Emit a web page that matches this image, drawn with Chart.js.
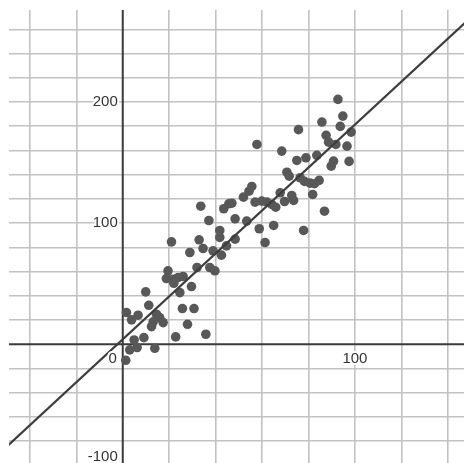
<!DOCTYPE html>
<html>
<head>
<meta charset="utf-8">
<script src="https://cdn.jsdelivr.net/npm/chart.js@4/dist/chart.umd.min.js"></script>
<style>
  html, body { margin: 0; padding: 0; background: #fff; }
  #wrap { width: 464px; height: 463px; }
</style>
</head>
<body>
<div id="wrap"><canvas id="c"></canvas></div>
<script>
// scatter values
var xs = [21.0, 32.9, 34.6, 28.9, 38.9, 41.8, 44.7, 42.5, 32.0, 37.5,
  39.7, 19.5, 18.8, 21.7, 23.8, 26.0, 22.0, 29.6, 24.6, 9.9,
  11.2, 25.7, 30.7, 1.6, 3.8, 6.6, 14.5, 15.9, 17.4, 13.1,
  12.4, 27.9, 35.8, 22.8, 9.1, 4.9, 6.2, 3.0, 13.8, 1.3,
  92.7, 94.8, 85.8, 93.7, 98.4, 75.7, 87.6, 88.7, 91.8, 96.6,
  57.8, 68.5, 75.0, 78.9, 83.6, 90.8, 89.8, 97.5, 70.7, 71.7,
  76.4, 78.3, 80.7, 82.6, 84.6, 55.6, 54.4, 52.0, 67.8, 72.8,
  73.6, 81.8, 57.0, 59.9, 62.1, 64.2, 65.9, 69.7, 86.9, 47.0,
  48.4, 53.4, 58.8, 65.0, 77.9, 48.4, 61.3, 33.6, 37.1, 43.5,
  45.7, 41.8]
var ys = [84.6, 86.3, 79.1, 75.8, 77.2, 88.2, 81.3, 73.6, 63.4, 63.4,
  60.7, 60.7, 54.3, 53.7, 55.1, 56.0, 50.4, 47.7, 42.7, 43.3,
  32.2, 29.5, 29.5, 26.2, 20.2, 24.0, 24.8, 22.1, 17.9, 18.5,
  14.6, 16.5, 8.3, 6.1, 5.5, 3.6, -2.7, -4.6, -3.3, -13.2,
  202.2, 188.4, 183.5, 179.9, 175.2, 177.2, 172.5, 166.9, 165.0, 163.6,
  165.0, 159.5, 151.8, 154.0, 156.0, 151.2, 147.1, 151.0, 142.1, 138.8,
  137.5, 134.5, 133.1, 132.6, 135.3, 130.3, 126.4, 121.5, 125.1, 122.9,
  118.8, 123.7, 117.4, 118.2, 117.4, 115.5, 113.2, 117.9, 109.9, 116.5,
  103.6, 101.7, 95.4, 98.1, 94.0, 86.8, 84.0, 114.0, 102.2, 111.9,
  116.0, 94.0]

// fitted line, two ends
var lineX = [-50, 150]
var lineY = [-84.5, 270]

// grid and labels
var xTicks = [-40, -20, 0, 20, 40, 60, 80, 100, 120, 140]
var yTicks = [-80, -60, -40, -20, 0, 20, 40, 60, 80, 100, 120, 140, 160, 180, 200, 220, 240, 260]
var xLabels = [100]
var yLabels = [200, 100, -100]

var pts = []
for (var i = 0; i < xs.length; i++) pts.push({x: xs[i], y: ys[i]})
var linePts = []
for (var i = 0; i < lineX.length; i++) linePts.push({x: lineX[i], y: lineY[i]})

var axesPlugin = {
  id: 'axes',
  beforeDatasetsDraw: function(chart) {
    var ctx = chart.ctx, a = chart.chartArea
    var x0 = chart.scales.x.getPixelForValue(0)
    var y0 = chart.scales.y.getPixelForValue(0)
    ctx.save()
    ctx.strokeStyle = '#3a3a3a'
    ctx.lineWidth = 2
    ctx.beginPath()
    ctx.moveTo(x0, a.top); ctx.lineTo(x0, a.bottom)
    ctx.moveTo(a.left, y0); ctx.lineTo(a.right, y0)
    ctx.stroke()
    ctx.restore()
  },
  afterDatasetsDraw: function(chart) {
    var ctx = chart.ctx, a = chart.chartArea
    var x0 = chart.scales.x.getPixelForValue(0)
    var y0 = chart.scales.y.getPixelForValue(0)
    ctx.save()
    ctx.font = '15px "Liberation Sans", Arial, sans-serif'
    ctx.fillStyle = '#333'
    ctx.strokeStyle = '#fff'
    ctx.lineWidth = 4
    ctx.lineJoin = 'round'
    function label(t, x, y, align) {
      ctx.textAlign = align
      ctx.textBaseline = 'middle'
      ctx.strokeText(t, x, y)
      ctx.fillText(t, x, y)
    }
    yLabels.forEach(function(v) {
      var py = Math.min(chart.scales.y.getPixelForValue(v), a.bottom - 6)
      label(String(v), x0 - 5, py, 'right')
    })
    xLabels.forEach(function(v) {
      label(String(v), chart.scales.x.getPixelForValue(v), y0 + 15, 'center')
    })
    label('0', x0 - 6, y0 + 15, 'right')
    ctx.restore()
  }
}

function gridScale(min, max, ticks) {
  return {
    type: 'linear',
    min: min,
    max: max,
    afterBuildTicks: function(scale) {
      scale.ticks = ticks.map(function(v) { return {value: v} })
    },
    afterFit: function(scale) {
      if (scale.isHorizontal()) scale.height = 0
      else scale.width = 0
    },
    ticks: {display: false},
    border: {display: false},
    grid: {
      drawTicks: false,
      lineWidth: 1.6,
      color: function(c) { return c.tick && c.tick.value === 0 ? 'rgba(0,0,0,0)' : '#c2c2c2' }
    }
  }
}

new Chart(document.getElementById('c'), {
  type: 'scatter',
  data: {
    datasets: [{
      type: 'line',
      data: linePts,
      borderColor: '#3d3d3d',
      borderWidth: 2.2,
      pointRadius: 0,
      fill: false
    }, {
      data: pts,
      backgroundColor: '#585858',
      borderWidth: 0,
      pointRadius: 4.8,
      pointHoverRadius: 4.8
    }]
  },
  options: {
    responsive: true,
    maintainAspectRatio: false,
    animation: false,
    events: [],
    layout: {autoPadding: false, padding: {left: 9, top: 10, right: 0, bottom: 0}},
    plugins: {legend: {display: false}, tooltip: {enabled: false}},
    scales: {
      x: gridScale(-49, 147, xTicks),
      y: gridScale(-98, 276, yTicks)
    }
  },
  plugins: [axesPlugin]
})
</script>
</body>
</html>
